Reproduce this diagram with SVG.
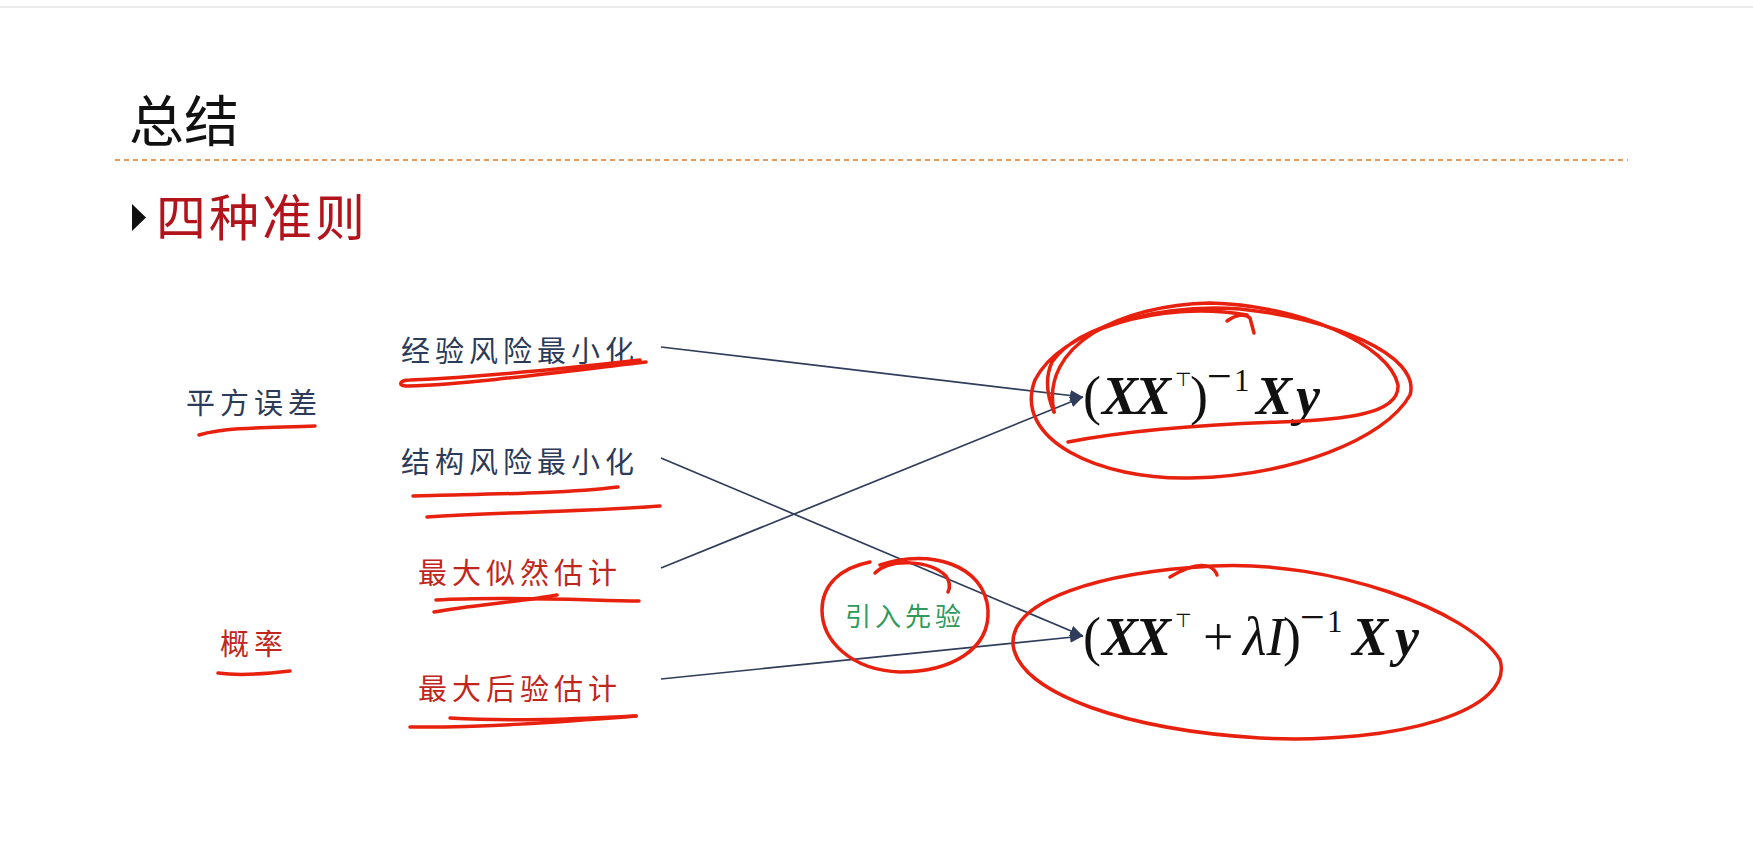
<svg xmlns="http://www.w3.org/2000/svg" width="1753" height="841" viewBox="0 0 1753 841">
<style>
.cjk{font-family:"Noto Sans CJK SC","Noto Sans",sans-serif;}
.lbl{font-size:29px;letter-spacing:5px;}
.navy{fill:#2c3b58;}
.red{fill:#c0261c;}
.pen{fill:none;stroke:#e8200e;stroke-width:3.5;stroke-linecap:round;stroke-linejoin:round;}
.conn{stroke:#2f3d5a;stroke-width:1.7;fill:none;}
.math{font-family:"Liberation Serif","Times New Roman",serif;font-size:54px;fill:#111;}
.bi{font-weight:bold;font-style:italic;}
.it{font-style:italic;}
.mn{font-size:44px;}
.one{font-size:31px;}
.tp{font-family:"DejaVu Sans",sans-serif;font-size:19px;}
</style>
<defs>
<marker id="arr" markerUnits="userSpaceOnUse" markerWidth="13" markerHeight="11" refX="13" refY="5.5" orient="auto">
<path d="M0,0 L13,5.5 L0,11 z" fill="#2f3d5a"/>
</marker>
</defs>
<rect width="1753" height="841" fill="#ffffff"/>
<line x1="0" y1="7" x2="1753" y2="7" stroke="#e6e6e6" stroke-width="1.5"/>

<g id="title">
<text x="129" y="141" class="cjk" font-size="55" fill="#111">总结</text>
<line x1="115" y1="160" x2="1628" y2="160" stroke="#e39a5c" stroke-width="2" stroke-dasharray="5,4"/>
<polygon points="132,204 146,217.5 132,231" fill="#111"/>
<text x="156" y="236" class="cjk" font-size="50" letter-spacing="3" fill="#b3141c">四种准则</text>
</g>

<g id="connectors">
<line class="conn" x1="661" y1="347" x2="1083" y2="397" marker-end="url(#arr)"/>
<line class="conn" x1="661" y1="458" x2="1083" y2="636" marker-end="url(#arr)"/>
<line class="conn" x1="661" y1="568" x2="1083" y2="397" marker-end="url(#arr)"/>
<line class="conn" x1="661" y1="679" x2="1083" y2="636" marker-end="url(#arr)"/>
</g>

<g id="node-pingfang">
<text x="186" y="414" class="cjk lbl navy">平方误差</text>
<path class="pen" d="M199,435 C230,426 280,428 315,426"/>
</g>
<g id="node-gailv">
<text x="220" y="655" class="cjk lbl red">概率</text>
<path class="pen" d="M218,673 C240,676 265,674 290,671"/>
</g>
<g id="node-erm">
<text x="401" y="362" class="cjk lbl navy">经验风险最小化</text>
<path class="pen" d="M646,362 C560,372 470,384 408,386 C398,387 398,380 410,380 C480,377 570,368 640,360"/>
</g>
<g id="node-srm">
<text x="401" y="473" class="cjk lbl navy">结构风险最小化</text>
<path class="pen" d="M413,496 C480,494 560,494 618,487"/>
<path class="pen" d="M427,517 C500,512 580,512 660,506"/>
</g>
<g id="node-mle">
<text x="418" y="584" class="cjk lbl red">最大似然估计</text>
<path class="pen" d="M436,600 C500,596 580,600 639,601"/>
<path class="pen" d="M434,612 C470,605 520,602 557,595"/>
</g>
<g id="node-map">
<text x="418" y="700" class="cjk lbl red">最大后验估计</text>
<path class="pen" d="M410,727 C480,728 560,722 636,716"/>
<path class="pen" d="M450,718 C520,722 590,718 636,716"/>
</g>

<g id="node-prior">
<text x="845" y="626" class="cjk" font-size="26" letter-spacing="4" fill="#2e9a5c">引入先验</text>
<path class="pen" d="M875,573 C890,558 930,560 946,576 C950,582 950,588 948,592"/>
<path class="pen" d="M880,565 C930,548 985,565 988,610 C990,650 950,672 900,672 C850,670 822,640 822,610 C822,585 840,568 870,562"/>
</g>

<g id="node-f1">
<text class="math" y="414"><tspan x="1083">(</tspan><tspan x="1102" class="bi">X</tspan><tspan x="1135" class="bi">X</tspan><tspan x="1175" y="386" class="tp">⊤</tspan><tspan x="1190" y="414">)</tspan><tspan x="1207" y="391" class="mn">−</tspan><tspan x="1234" y="391" class="one">1</tspan><tspan x="1256" y="414" class="bi">X</tspan><tspan x="1296" class="bi">y</tspan></text>
<path class="pen" d="M1247,315 C1160,300 1060,330 1035,380 C1012,440 1100,480 1190,478 C1290,476 1385,440 1410,395 C1422,355 1330,318 1240,309 C1170,304 1080,322 1052,362 C1044,380 1048,398 1054,412"/>
<path class="pen" d="M1054,412 C1040,345 1120,305 1210,303 C1300,305 1390,345 1398,385 C1400,415 1340,420 1280,422 C1190,425 1120,432 1068,442"/>
<path class="pen" d="M1227,321 C1235,315 1245,313 1250,318 L1254,333"/>
</g>

<g id="node-f2">
<text class="math" y="655"><tspan x="1083">(</tspan><tspan x="1102" class="bi">X</tspan><tspan x="1135" class="bi">X</tspan><tspan x="1175" y="627" class="tp">⊤</tspan><tspan x="1203" y="655">+</tspan><tspan x="1243" class="it">λI</tspan><tspan x="1283">)</tspan><tspan x="1300" y="632" class="mn">−</tspan><tspan x="1327" y="632" class="one">1</tspan><tspan x="1352" y="655" class="bi">X</tspan><tspan x="1395" class="bi">y</tspan></text>
<path class="pen" d="M1170,577 C1185,568 1200,563 1210,567 C1214,569 1216,572 1217,575"/>
<path class="pen" d="M1213,566 C1330,560 1470,610 1500,660 C1515,710 1400,745 1260,738 C1130,730 1020,695 1013,645 C1010,600 1100,572 1213,566"/>
</g>
</svg>
